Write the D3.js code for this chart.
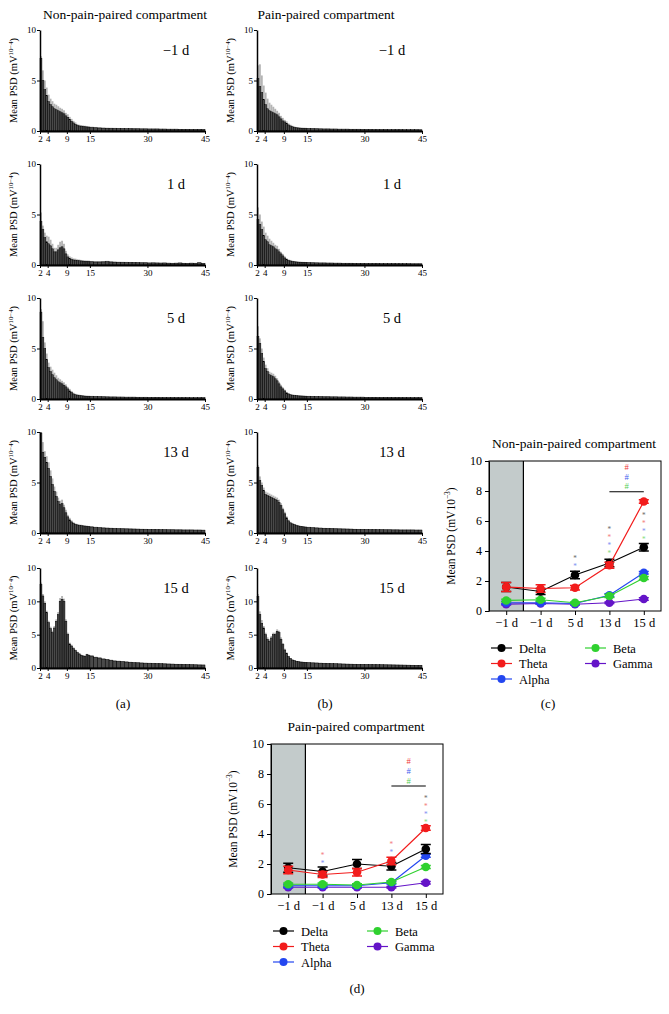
<!DOCTYPE html>
<html>
<head>
<meta charset="utf-8">
<script src="https://cdn.jsdelivr.net/npm/d3@7"></script>
<style>
body { margin: 0; background: #fff; }
svg { font-family: "Liberation Serif", "Times New Roman", serif; }
</style>
</head>
<body>
<svg class="fig" width="669" height="1014"></svg>
<script>
// frequency bins (lower edge, Hz); last bin ends at 45
const freqs = [2,2.5,3,3.5,4,4.5,5,5.5,6,6.5,7,7.5,8,8.5,9,9.5,10,10.5,11,11.5,12,12.5,13,13.5,14,14.5,
  15,16,17,18,19,20,21,22,23,24,25,26,27,28,29,30,31,32,33,34,35,36,37,38,39,40,41,42,43,44];
const freqEnd = 45;
const freqTicks = [2,4,9,15,30,45];
const dayLabels = ["\u22121 d","1 d","5 d","13 d","15 d"];

// non-pain-paired compartment, mean PSD and SEM
const npMean1 = [7.2,5.0,4.1,3.5,2.9,2.6,2.4,2.2,2.1,2.0,1.9,1.8,1.7,1.5,1.35,1.15,0.95,0.8,0.65,0.55,0.5,0.48,0.45,0.42,0.4,0.38,
  0.35,0.32,0.3,0.28,0.27,0.26,0.25,0.25,0.24,0.23,0.23,0.22,0.22,0.21,0.21,0.2,0.2,0.2,0.19,0.19,0.18,0.18,0.18,0.17,0.17,0.17,0.16,0.16,0.16,0.15];
const npSem1 = [0.2,1.0,0.9,0.8,0.7,0.6,0.55,0.5,0.5,0.45,0.4,0.4,0.35,0.3,0.3,0.25,0.25,0.2,0.2,0.15,0.12,0.1,0.1,0.1,0.1,0.1,
  0.08,0.08,0.07,0.07,0.06,0.06,0.06,0.05,0.05,0.05,0.05,0.05,0.04,0.04,0.04,0.04,0.04,0.04,0.03,0.03,0.03,0.03,0.03,0.03,0.03,0.03,0.03,0.03,0.03,0.03];
const npMean2 = [4.3,3.5,2.7,2.3,2.1,1.9,1.6,1.3,1.3,1.5,1.7,1.8,1.6,1.1,0.8,0.65,0.55,0.5,0.48,0.45,0.42,0.4,0.38,0.36,0.35,0.34,
  0.32,0.3,0.3,0.31,0.33,0.3,0.28,0.27,0.26,0.25,0.25,0.24,0.23,0.22,0.22,0.2,0.21,0.2,0.19,0.2,0.18,0.17,0.18,0.2,0.17,0.16,0.18,0.17,0.22,0.16];
const npSem2 = [0.9,0.4,0.5,0.6,0.7,0.6,0.5,0.4,0.4,0.5,0.6,0.6,0.5,0.3,0.25,0.2,0.2,0.15,0.15,0.12,0.12,0.1,0.1,0.1,0.1,0.1,
  0.08,0.08,0.08,0.08,0.08,0.07,0.07,0.06,0.06,0.06,0.05,0.05,0.05,0.05,0.05,0.05,0.04,0.04,0.04,0.04,0.04,0.04,0.04,0.04,0.04,0.04,0.04,0.04,0.04,0.04];
const npMean3 = [8.6,6.1,5.0,3.9,3.1,2.7,2.4,2.1,1.9,1.7,1.6,1.5,1.35,1.2,1.0,0.8,0.65,0.5,0.42,0.38,0.35,0.32,0.3,0.28,0.27,0.26,
  0.25,0.24,0.23,0.22,0.21,0.2,0.2,0.19,0.19,0.18,0.18,0.18,0.17,0.17,0.17,0.16,0.16,0.16,0.15,0.15,0.15,0.15,0.14,0.14,0.14,0.14,0.13,0.13,0.13,0.13];
const npSem3 = [0.3,1.6,0.6,0.6,0.5,0.5,0.5,0.5,0.45,0.4,0.35,0.3,0.3,0.25,0.2,0.2,0.15,0.12,0.1,0.1,0.08,0.08,0.08,0.07,0.07,0.07,
  0.06,0.06,0.06,0.05,0.05,0.05,0.05,0.05,0.04,0.04,0.04,0.04,0.04,0.04,0.04,0.03,0.03,0.03,0.03,0.03,0.03,0.03,0.03,0.03,0.03,0.03,0.03,0.03,0.03,0.03];
const npMean4 = [9.9,8.0,7.5,7.0,6.4,5.6,4.8,4.1,3.6,3.1,2.8,2.9,2.5,2.0,1.6,1.3,1.1,0.95,0.85,0.8,0.75,0.72,0.7,0.68,0.65,0.62,
  0.6,0.55,0.52,0.5,0.48,0.46,0.44,0.43,0.42,0.41,0.4,0.39,0.38,0.37,0.36,0.35,0.35,0.34,0.33,0.33,0.32,0.32,0.31,0.31,0.3,0.3,0.3,0.29,0.29,0.28];
const npSem4 = [0.1,1.0,0.6,0.6,0.6,0.6,0.6,0.5,0.5,0.4,0.4,0.4,0.3,0.3,0.2,0.2,0.15,0.12,0.1,0.1,0.1,0.1,0.08,0.08,0.08,0.08,
  0.07,0.07,0.07,0.06,0.06,0.06,0.06,0.05,0.05,0.05,0.05,0.05,0.05,0.05,0.05,0.04,0.04,0.04,0.04,0.04,0.04,0.04,0.04,0.04,0.04,0.04,0.04,0.04,0.04,0.04];
const npMean5 = [12.5,10.8,9.7,8.3,6.8,5.9,5.3,6.0,7.0,8.0,10.0,10.3,10.0,7.0,5.0,3.6,3.3,2.9,2.6,2.3,2.1,1.9,1.8,1.75,2.0,1.9,
  1.8,1.6,1.5,1.35,1.25,1.15,1.05,1.0,0.95,0.9,0.85,0.8,0.78,0.75,0.72,0.7,0.68,0.66,0.64,0.62,0.6,0.58,0.56,0.55,0.53,0.52,0.5,0.48,0.46,0.45];
const npSem5 = [0.3,0.3,0.3,0.3,0.3,0.3,0.3,0.3,0.3,0.4,0.5,0.5,0.4,0.3,0.3,0.2,0.2,0.2,0.15,0.15,0.15,0.12,0.12,0.12,0.12,0.12,
  0.1,0.1,0.1,0.1,0.1,0.1,0.1,0.1,0.1,0.1,0.08,0.08,0.08,0.08,0.08,0.08,0.08,0.08,0.08,0.08,0.06,0.06,0.06,0.06,0.06,0.06,0.06,0.06,0.06,0.06];

// pain-paired compartment
const pMean1 = [5.2,4.4,3.8,3.1,2.6,2.2,2.0,1.9,1.8,1.7,1.6,1.4,1.2,1.0,0.9,0.75,0.6,0.5,0.42,0.36,0.32,0.3,0.28,0.27,0.26,0.25,
  0.24,0.23,0.22,0.21,0.2,0.2,0.19,0.19,0.18,0.18,0.18,0.17,0.17,0.17,0.16,0.16,0.16,0.15,0.15,0.15,0.15,0.14,0.14,0.14,0.14,0.13,0.13,0.13,0.13,0.12];
const pSem1 = [1.3,2.2,1.7,1.4,1.2,1.0,0.8,0.7,0.6,0.5,0.4,0.4,0.3,0.3,0.2,0.2,0.15,0.12,0.1,0.1,0.08,0.08,0.08,0.07,0.07,0.07,
  0.06,0.06,0.06,0.05,0.05,0.05,0.05,0.05,0.04,0.04,0.04,0.04,0.04,0.04,0.04,0.03,0.03,0.03,0.03,0.03,0.03,0.03,0.03,0.03,0.03,0.03,0.03,0.03,0.03,0.03];
const pMean2 = [4.5,4.0,3.5,2.9,2.5,2.3,2.0,1.9,1.8,1.6,1.5,1.3,1.1,0.9,0.7,0.55,0.45,0.4,0.35,0.32,0.3,0.28,0.27,0.26,0.25,0.24,
  0.23,0.22,0.21,0.2,0.2,0.19,0.19,0.18,0.18,0.17,0.17,0.17,0.16,0.16,0.16,0.15,0.15,0.15,0.15,0.14,0.14,0.14,0.14,0.13,0.13,0.13,0.13,0.12,0.12,0.12];
const pSem2 = [1.2,1.0,0.8,0.9,0.7,0.6,0.6,0.5,0.4,0.4,0.4,0.3,0.2,0.2,0.15,0.12,0.1,0.1,0.08,0.08,0.07,0.07,0.07,0.06,0.06,0.06,
  0.05,0.05,0.05,0.05,0.05,0.04,0.04,0.04,0.04,0.04,0.04,0.04,0.04,0.03,0.03,0.03,0.03,0.03,0.03,0.03,0.03,0.03,0.03,0.03,0.03,0.03,0.03,0.03,0.03,0.03];
const pMean3 = [6.2,5.5,4.5,3.7,3.0,2.7,2.4,2.3,2.2,2.0,1.8,1.5,1.2,1.0,0.8,0.6,0.5,0.42,0.38,0.35,0.33,0.31,0.3,0.29,0.28,0.27,
  0.26,0.25,0.24,0.23,0.22,0.22,0.21,0.21,0.2,0.2,0.19,0.19,0.18,0.18,0.18,0.17,0.17,0.17,0.16,0.16,0.16,0.16,0.15,0.15,0.15,0.15,0.15,0.14,0.14,0.14];
const pSem3 = [1.0,0.5,0.5,0.4,0.4,0.35,0.3,0.3,0.3,0.3,0.25,0.2,0.2,0.15,0.12,0.1,0.1,0.08,0.08,0.07,0.07,0.06,0.06,0.06,0.06,0.06,
  0.05,0.05,0.05,0.05,0.05,0.05,0.04,0.04,0.04,0.04,0.04,0.04,0.04,0.04,0.04,0.03,0.03,0.03,0.03,0.03,0.03,0.03,0.03,0.03,0.03,0.03,0.03,0.03,0.03,0.03];
const pMean4 = [6.5,5.2,4.7,4.2,3.8,3.7,3.6,3.5,3.4,3.3,3.2,3.0,2.7,2.3,1.9,1.5,1.2,1.0,0.9,0.82,0.75,0.7,0.65,0.62,0.6,0.58,
  0.55,0.52,0.5,0.48,0.46,0.45,0.44,0.42,0.41,0.4,0.39,0.38,0.37,0.36,0.36,0.35,0.34,0.34,0.33,0.33,0.32,0.32,0.31,0.31,0.3,0.3,0.3,0.3,0.29,0.29];
const pSem4 = [0.2,0.4,0.3,0.3,0.3,0.3,0.3,0.3,0.3,0.3,0.3,0.3,0.25,0.2,0.2,0.15,0.12,0.1,0.1,0.08,0.08,0.08,0.07,0.07,0.07,0.07,
  0.06,0.06,0.06,0.06,0.05,0.05,0.05,0.05,0.05,0.05,0.05,0.05,0.04,0.04,0.04,0.04,0.04,0.04,0.04,0.04,0.04,0.04,0.04,0.04,0.04,0.04,0.04,0.04,0.04,0.04];
const pMean5 = [10.7,8.0,6.7,6.0,5.0,4.3,4.0,4.5,5.0,5.0,5.5,5.3,4.3,3.5,2.7,2.2,1.7,1.4,1.2,1.1,1.0,0.95,0.9,0.88,0.85,0.82,
  0.8,0.77,0.75,0.72,0.7,0.68,0.66,0.64,0.62,0.6,0.58,0.57,0.56,0.55,0.54,0.53,0.52,0.51,0.5,0.49,0.48,0.47,0.46,0.45,0.44,0.43,0.42,0.41,0.4,0.4];
const pSem5 = [0.4,0.5,0.5,0.3,0.3,0.3,0.3,0.3,0.3,0.3,0.3,0.3,0.3,0.25,0.2,0.15,0.12,0.1,0.1,0.08,0.08,0.08,0.07,0.07,0.07,0.07,
  0.06,0.06,0.06,0.06,0.06,0.06,0.05,0.05,0.05,0.05,0.05,0.05,0.05,0.05,0.05,0.05,0.05,0.05,0.05,0.05,0.05,0.05,0.05,0.05,0.05,0.05,0.05,0.05,0.05,0.05];

// y axes of the spectra: the 15 d rows run to 15 (the top tick is printed "10")
const psdTicks = [0, 5, 10];
const psdTickLabels = ["0", "5", "10"];
const psdTicks15 = [0, 5, 10, 15];
const psdTickLabels15 = ["0", "5", "10", "10"];

// band power over days
const stages = ["\u22121 d", "\u22121 d", "5 d", "13 d", "15 d"];
const bands = ["Delta", "Theta", "Alpha", "Beta", "Gamma"];
const npDelta = [1.6, 1.3, 2.4, 3.2, 4.25];
const npDeltaErr = [0.3, 0.2, 0.25, 0.25, 0.25];
const npTheta = [1.6, 1.5, 1.55, 3.05, 7.3];
const npThetaErr = [0.3, 0.25, 0.15, 0.2, 0.12];
const npAlpha = [0.55, 0.55, 0.5, 1.05, 2.55];
const npAlphaErr = [0.1, 0.1, 0.05, 0.1, 0.08];
const npBeta = [0.7, 0.75, 0.55, 1.0, 2.2];
const npBetaErr = [0.08, 0.1, 0.05, 0.1, 0.1];
const npGamma = [0.45, 0.5, 0.45, 0.55, 0.8];
const npGammaErr = [0.05, 0.05, 0.05, 0.05, 0.08];

const pDelta = [1.75, 1.5, 2.0, 1.85, 3.0];
const pDeltaErr = [0.3, 0.3, 0.3, 0.25, 0.3];
const pTheta = [1.6, 1.3, 1.45, 2.2, 4.4];
const pThetaErr = [0.25, 0.2, 0.25, 0.25, 0.15];
const pAlpha = [0.55, 0.55, 0.55, 0.75, 2.55];
const pAlphaErr = [0.1, 0.1, 0.08, 0.08, 0.1];
const pBeta = [0.65, 0.65, 0.6, 0.8, 1.8];
const pBetaErr = [0.08, 0.08, 0.08, 0.08, 0.1];
const pGamma = [0.45, 0.45, 0.45, 0.45, 0.75];
const pGammaErr = [0.05, 0.05, 0.05, 0.05, 0.08];

// significance marks: stage index, value of the lowest star, bands marked (top to bottom)
const npStars = [[2, 3.1, ["Delta", "Alpha"]], [3, 3.95, ["Delta", "Theta", "Alpha", "Beta"]], [4, 4.85, ["Delta", "Theta", "Alpha", "Beta"]]];
const npHash = [3, 4, 7.95, ["Theta", "Alpha", "Beta"]];
const pStars = [[1, 2.15, ["Theta", "Alpha"]], [3, 2.9, ["Theta", "Alpha"]], [4, 4.85, ["Delta", "Theta", "Alpha", "Beta"]]];
const pHash = [3, 4, 7.2, ["Theta", "Alpha", "Beta"]];

const lineColor = {Delta: "#000000", Theta: "#f21c1c", Alpha: "#2346f0", Beta: "#2fd12f", Gamma: "#6414c8"};
const starColor = {Delta: "#6a6a6a", Theta: "#f47c7c", Alpha: "#7d8ff2", Beta: "#7fdc7f"};
const hashColor = {Theta: "#f03a3a", Alpha: "#4560ee", Beta: "#58cf58"};

const svg = d3.select("svg.fig");

function yTitle(x, y, main, sup, tail, size) {
  const t = svg.append("text")
    .attr("transform", `translate(${x},${y}) rotate(-90)`)
    .attr("text-anchor", "middle")
    .attr("font-size", size);
  t.append("tspan").text(main);
  t.append("tspan").attr("dy", -size * 0.4).attr("font-size", size * 0.65).text(sup);
  t.append("tspan").attr("dy", size * 0.4).text(tail);
}

const spectra = [
  [npMean1, npSem1, pMean1, pSem1],
  [npMean2, npSem2, pMean2, pSem2],
  [npMean3, npSem3, pMean3, pSem3],
  [npMean4, npSem4, pMean4, pSem4],
  [npMean5, npSem5, pMean5, pSem5]
];

const colX = [40, 257];
const rowTop = [30, 164, 298, 432, 568];
const pw = 165;

const drawSpectrum = (left, top, mean, sem, isLast, day, labelX) => {
  const h = isLast ? 100 : 101;
  const x = d3.scaleLinear().domain([2, freqEnd]).range([left, left + pw]);
  const y = d3.scaleLinear().domain([0, isLast ? 15 : 10]).range([top + h, top]);
  const edge = i => i + 1 < freqs.length ? freqs[i + 1] : freqEnd;
  const g = svg.append("g");

  g.selectAll("rect.sem").data(freqs).enter().append("rect")
    .attr("x", d => x(d))
    .attr("width", (d, i) => x(edge(i)) - x(d))
    .attr("y", (d, i) => y(mean[i] + sem[i]))
    .attr("height", (d, i) => y(0) - y(mean[i] + sem[i]))
    .attr("fill", "#b4b4b4");

  g.selectAll("rect.mean").data(freqs).enter().append("rect")
    .attr("x", d => x(d))
    .attr("width", (d, i) => x(edge(i)) - x(d))
    .attr("y", (d, i) => y(mean[i]))
    .attr("height", (d, i) => y(0) - y(mean[i]))
    .attr("fill", "#4a4a4a")
    .attr("stroke", "#000")
    .attr("stroke-width", 0.5);

  const yAxis = d3.axisLeft(y)
    .tickValues(isLast ? psdTicks15 : psdTicks)
    .tickFormat((d, i) => (isLast ? psdTickLabels15 : psdTickLabels)[i])
    .tickSize(3).tickSizeOuter(0).tickPadding(1);
  const ya = g.append("g").attr("transform", `translate(${left},0)`).call(yAxis);
  ya.select(".domain").attr("stroke-width", 1.5);
  ya.selectAll("text").attr("font-size", 9).attr("font-family", "Liberation Serif");

  const xAxis = d3.axisBottom(x).tickValues(freqTicks).tickSize(3).tickSizeOuter(0).tickPadding(2);
  const xa = g.append("g").attr("transform", `translate(0,${top + h})`).call(xAxis);
  xa.select(".domain").attr("stroke-width", 1.8);
  xa.selectAll("text").attr("font-size", 9).attr("font-family", "Liberation Serif");

  g.append("text").attr("x", labelX).attr("y", top + 25)
    .attr("text-anchor", "middle").attr("font-size", 14.5).text(day);

  yTitle(left - 23, top + h / 2, "Mean PSD (mV", "10\u22124", ")", 10.5);
};

spectra.forEach((s, r) => {
  drawSpectrum(colX[0], rowTop[r], s[0], s[1], r === 4, dayLabels[r], 176);
  drawSpectrum(colX[1], rowTop[r], s[2], s[3], r === 4, dayLabels[r], 392);
});

svg.append("text").attr("x", 125).attr("y", 19).attr("text-anchor", "middle").attr("font-size", 13.5).text("Non-pain-paired compartment");
svg.append("text").attr("x", 326).attr("y", 19).attr("text-anchor", "middle").attr("font-size", 13.5).text("Pain-paired compartment");

// band power panels
const drawBands = (left, top, title, values, errs, stars, hash) => {
  const w = 172, h = 150;
  const x = d3.scalePoint().domain(d3.range(stages.length)).range([left, left + w]).padding(0.5);
  const y = d3.scaleLinear().domain([0, 10]).range([top + h, top]);
  const g = svg.append("g");
  const shadeEnd = (x(0) + x(1)) / 2;

  g.append("rect").attr("x", left).attr("y", top).attr("width", shadeEnd - left).attr("height", h).attr("fill", "#c3cbcb");
  g.append("line").attr("x1", shadeEnd).attr("x2", shadeEnd).attr("y1", top).attr("y2", top + h).attr("stroke", "#000").attr("stroke-width", 1.2);
  g.append("rect").attr("x", left).attr("y", top).attr("width", w).attr("height", h)
    .attr("fill", "none").attr("stroke", "#000").attr("stroke-width", 1);

  const ya = g.append("g").attr("transform", `translate(${left},0)`)
    .call(d3.axisLeft(y).tickValues([0, 2, 4, 6, 8, 10]).tickSize(4).tickSizeOuter(0));
  ya.selectAll("text").attr("font-size", 12).attr("font-family", "Liberation Serif");
  const xa = g.append("g").attr("transform", `translate(0,${top + h})`)
    .call(d3.axisBottom(x).tickFormat(i => stages[i]).tickSize(4).tickSizeOuter(0));
  xa.select(".domain").remove();
  xa.selectAll("text").attr("font-size", 12.5).attr("font-family", "Liberation Serif");

  const order = ["Gamma", "Alpha", "Beta", "Delta", "Theta"];
  const line = d3.line().x((d, i) => x(i)).y(d => y(d));
  order.forEach(b => {
    const v = values[b], e = errs[b], c = lineColor[b];
    g.append("path").attr("d", line(v)).attr("fill", "none").attr("stroke", c).attr("stroke-width", 1.2);
    v.forEach((d, i) => {
      const cx = x(i);
      g.append("path")
        .attr("d", `M${cx},${y(d - e[i])}V${y(d + e[i])}M${cx - 5},${y(d + e[i])}H${cx + 5}M${cx - 5},${y(d - e[i])}H${cx + 5}`)
        .attr("stroke", c).attr("stroke-width", 1.5).attr("fill", "none");
      g.append("circle").attr("cx", cx).attr("cy", y(d)).attr("r", 4.3).attr("fill", c);
    });
  });

  // stars: 8 px apart, small enough that the lines do not collide
  stars.forEach(([si, base, marks]) => {
    const t = g.append("text").attr("text-anchor", "middle").attr("font-size", 7.2);
    marks.forEach((b, k) => {
      t.append("tspan").attr("x", x(si))
        .attr("y", y(base) + 4 - (marks.length - 1 - k) * 8)
        .attr("fill", starColor[b]).text("*");
    });
  });

  const [h0, h1, hv, hmarks] = hash;
  g.append("line").attr("x1", x(h0)).attr("x2", x(h1)).attr("y1", y(hv)).attr("y2", y(hv)).attr("stroke", "#000").attr("stroke-width", 1);
  const ht = g.append("text").attr("text-anchor", "middle").attr("font-size", 8.7);
  hmarks.forEach((b, k) => {
    ht.append("tspan").attr("x", (x(h0) + x(h1)) / 2)
      .attr("y", y(hv) - 2.5 - (hmarks.length - 1 - k) * 9.7)
      .attr("fill", hashColor[b]).text("#");
  });

  svg.append("text").attr("x", left + w / 2 - 1).attr("y", top - 13).attr("text-anchor", "middle").attr("font-size", 13.5).text(title);
  yTitle(left - 34, top + h / 2, "Mean PSD (mV10", "\u22123", ")", 11.5);

  // legend
  const legendCols = [["Delta", "Theta", "Alpha"], ["Beta", "Gamma"]];
  legendCols.forEach((col, ci) => {
    const lx = left + 2 + ci * 94;
    col.forEach((b, ri) => {
      const ly = top + h + 37 + ri * 15.5;
      g.append("line").attr("x1", lx).attr("x2", lx + 21).attr("y1", ly).attr("y2", ly).attr("stroke", lineColor[b]).attr("stroke-width", 1.2);
      g.append("circle").attr("cx", lx + 10.5).attr("cy", ly).attr("r", 4).attr("fill", lineColor[b]);
      g.append("text").attr("x", lx + 28).attr("y", ly + 4.5).attr("font-size", 12.5).text(b);
    });
  });
};

drawBands(489, 461, "Non-pain-paired compartment",
  {Delta: npDelta, Theta: npTheta, Alpha: npAlpha, Beta: npBeta, Gamma: npGamma},
  {Delta: npDeltaErr, Theta: npThetaErr, Alpha: npAlphaErr, Beta: npBetaErr, Gamma: npGammaErr},
  npStars, npHash);
drawBands(271, 744, "Pain-paired compartment",
  {Delta: pDelta, Theta: pTheta, Alpha: pAlpha, Beta: pBeta, Gamma: pGamma},
  {Delta: pDeltaErr, Theta: pThetaErr, Alpha: pAlphaErr, Beta: pBetaErr, Gamma: pGammaErr},
  pStars, pHash);

const panelTags = [["(a)", 123, 708], ["(b)", 325, 708], ["(c)", 548, 708], ["(d)", 357, 993]];
panelTags.forEach(([t, x, y]) => svg.append("text").attr("x", x).attr("y", y).attr("text-anchor", "middle").attr("font-size", 13).text(t));
</script>
</body>
</html>
